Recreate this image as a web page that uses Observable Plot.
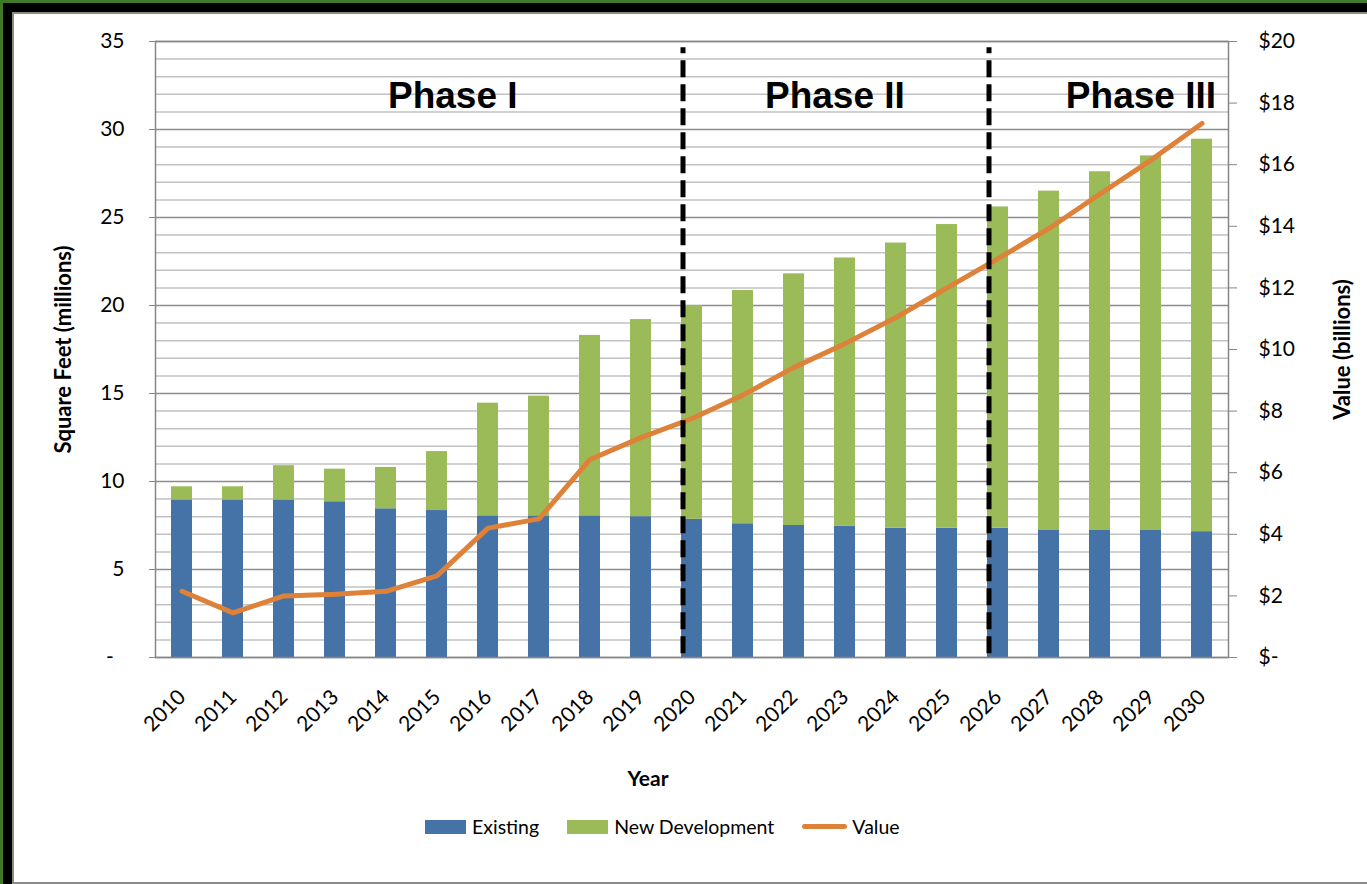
<!DOCTYPE html>
<html>
<head>
<meta charset="utf-8">
<script src="https://cdn.jsdelivr.net/npm/d3@7"></script>
<script src="https://cdn.jsdelivr.net/npm/@observablehq/plot@0.6"></script>
<style>
  html, body { margin: 0; padding: 0; background: #fff; overflow: hidden; width: 1367px; height: 884px; }
  body { font-family: Lato, "Open Sans", sans-serif; position: relative; }
  .f-green { position: absolute; left: 0; top: 0; width: 1500px; height: 1500px; background: #3e7a28; }
  .f-black { position: absolute; left: 3px; top: 3px; width: 1500px; height: 1500px; background: #000; }
  .f-white { position: absolute; left: 12px; top: 12px; width: 1500px; height: 872px; background: #fff; box-sizing: border-box; border: 2px solid #8a8a8a; }
  #chart { position: absolute; left: 0; top: 0; width: 1367px; }
  #chart svg { display: block; }
  .legend { position: absolute; left: 425px; top: 815px; display: flex; align-items: center; font-size: 19.5px; color: #000; white-space: nowrap; }
  .legend .item { display: flex; align-items: center; margin-right: 28px; }
  .legend .sw { width: 41px; height: 14px; margin-right: 6px; }
  .legend .ln { width: 45px; height: 5px; border-radius: 3px; margin-right: 5px; }
</style>
</head>
<body>
<div class="f-green"></div>
<div class="f-black"></div>
<div class="f-white"></div>
<div id="chart"></div>
<script>
// ---- data ----
const years = ["2010","2011","2012","2013","2014","2015","2016","2017","2018","2019","2020",
               "2021","2022","2023","2024","2025","2026","2027","2028","2029","2030"];
const existing = [8.95,8.95,8.95,8.85,8.45,8.35,8.05,8.05,8.05,8.0,7.85,
                  7.6,7.5,7.45,7.35,7.35,7.35,7.25,7.25,7.25,7.15];
const newDevelopment = [0.75,0.75,1.95,1.85,2.35,3.35,6.4,6.8,10.25,11.2,12.15,
                        13.25,14.3,15.25,16.2,17.25,18.25,19.25,20.35,21.25,22.3];
const valueBillions = [2.15,1.45,2.0,2.05,2.15,2.65,4.2,4.5,6.43,7.14,7.76,
                       8.52,9.42,10.19,11.04,12.0,12.95,13.93,15.05,16.15,17.34];
const seriesNames = ["Existing","New Development"];
const seriesColors = ["#4572A7","#9BBB59"];
const lineColor = "#DE8139";
const phaseNames = ["Phase I","Phase II","Phase III"];
const phaseStarts = ["2020","2026"];
const leftTicks = [0,5,10,15,20,25,30,35];
const rightTicks = [0,2,4,6,8,10,12,14,16,18,20];
const minorGrid = d3.range(1,35).filter(v => v % 5 !== 0);

const leftMax = 35, rightMax = 20, ratio = leftMax / rightMax;

const barRows = [];
seriesNames.forEach((s, si) => {
  const vals = si === 0 ? existing : newDevelopment;
  years.forEach((y, i) => barRows.push({year: y, series: s, value: vals[i]}));
});
const lineRows = years.map((y, i) => ({year: y, value: valueBillions[i]}));

const FONT = "Lato, 'Open Sans', sans-serif";
const PHASE_FONT = "'Liberation Sans', Arial, sans-serif";

const chart = Plot.plot({
  width: 1367,
  height: 790,
  marginLeft: 155,
  marginRight: 139,
  marginTop: 41,
  marginBottom: 133,
  style: {fontFamily: FONT, fontSize: "21px", background: "transparent", color: "#000"},
  x: {type: "band", domain: years, paddingInner: 0.59, paddingOuter: 0.295},
  y: {domain: [0, leftMax]},
  color: {domain: seriesNames, range: seriesColors},
  marks: [
    Plot.ruleY(minorGrid, {stroke: "#c2c2c2", strokeWidth: 1.5}),
    Plot.ruleY(leftTicks, {stroke: "#8c8c8c", strokeWidth: 1.5}),
    Plot.barY(barRows, {x: "year", y: "value", fill: "series", order: seriesNames}),
    Plot.line(lineRows, {x: "year", y: d => d.value * ratio, stroke: lineColor, strokeWidth: 5,
                         strokeLinecap: "round", strokeLinejoin: "round"}),
    Plot.frame({stroke: "#868686", strokeWidth: 1.5}),
    Plot.axisY(leftTicks, {anchor: "left", tickSize: 6, tickPadding: 25, stroke: "#868686", fill: "#000",
      tickFormat: d => d === 0 ? "-\u00a0\u00a0" : String(d), label: null, fontSize: 21}),
    Plot.axisY(rightTicks.map(v => v * ratio), {anchor: "right", tickSize: 8, tickPadding: 22, stroke: "#868686", fill: "#000",
      tickFormat: d => { const v = Math.round(d / ratio); return v === 0 ? "$-" : "$" + v; }, label: null, fontSize: 21}),
    Plot.axisX({tickRotate: -45, tickSize: 0, tickPadding: 36, label: null, fontSize: 21, fill: "#000"}),
    Plot.ruleX(phaseStarts, {x: d => d, y1: 34.64, y2: 0, stroke: "#000", strokeWidth: 5,
      strokeDasharray: "17,7", strokeDashoffset: 11, dx: -9}),
    Plot.text([phaseNames[0]], {x: () => "2014", y: () => 31.9, text: d => d, textAnchor: "start", dx: 2,
      fontFamily: PHASE_FONT, fontWeight: "bold", fontSize: 37, fill: "#000"}),
    Plot.text([phaseNames[1]], {x: () => "2021", y: () => 31.9, text: d => d, textAnchor: "start", dx: 22,
      fontFamily: PHASE_FONT, fontWeight: "bold", fontSize: 37, fill: "#000"}),
    Plot.text([phaseNames[2]], {x: () => "2030", y: () => 31.9, text: d => d, textAnchor: "end", dx: 14,
      fontFamily: PHASE_FONT, fontWeight: "bold", fontSize: 37, fill: "#000"}),
    Plot.text(["Square Feet (millions)"], {frameAnchor: "left", textAnchor: "middle", dx: -92, rotate: -90, text: d => d,
      fontWeight: "bold", fontSize: 22, fill: "#000"}),
    Plot.text(["Value (billions)"], {frameAnchor: "right", textAnchor: "middle", dx: 114, rotate: -90, text: d => d,
      fontWeight: "bold", fontSize: 22, fill: "#000"}),
    Plot.text(["Year"], {frameAnchor: "bottom", dx: -44, dy: 128, text: d => d,
      fontWeight: "bold", fontSize: 21, fill: "#000"})
  ]
});
document.getElementById("chart").appendChild(chart);

const legend = document.createElement("div");
legend.className = "legend";
seriesNames.forEach((s, i) => {
  const it = document.createElement("div"); it.className = "item";
  const sw = document.createElement("span"); sw.className = "sw"; sw.style.background = seriesColors[i];
  const t = document.createElement("span"); t.textContent = s;
  it.appendChild(sw); it.appendChild(t); legend.appendChild(it);
});
{
  const it = document.createElement("div"); it.className = "item";
  const sw = document.createElement("span"); sw.className = "ln"; sw.style.background = lineColor;
  const t = document.createElement("span"); t.textContent = "Value";
  it.appendChild(sw); it.appendChild(t); legend.appendChild(it);
}
document.body.appendChild(legend);
</script>
</body>
</html>
